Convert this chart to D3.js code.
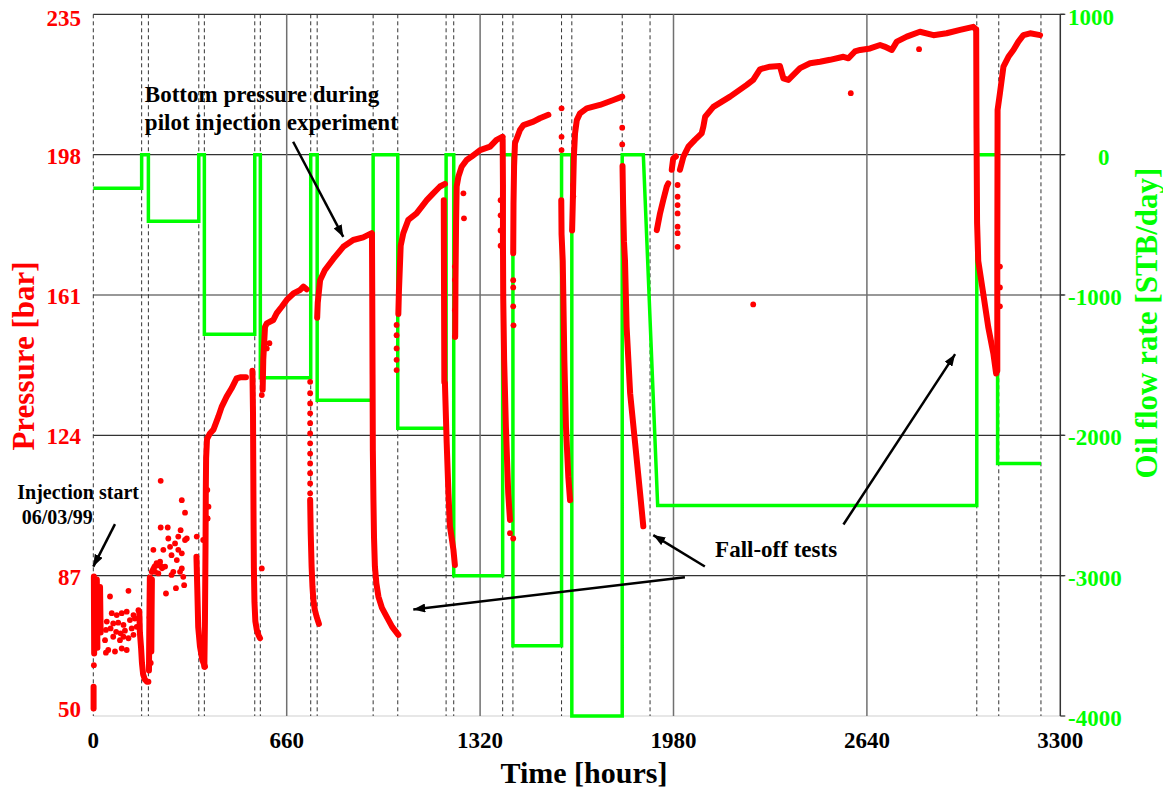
<!DOCTYPE html>
<html>
<head>
<meta charset="utf-8">
<script src="https://cdn.jsdelivr.net/npm/d3@7"></script>
<style>
  html, body { margin: 0; padding: 0; background: #fff; }
  svg { display: block; font-family: "Liberation Serif", "Times New Roman", serif; font-weight: bold; }
</style>
</head>
<body>
<svg id="chart" width="1163" height="790"></svg>
<script>
// ---- axis ticks ----
const timeTicks = [0, 660, 1320, 1980, 2640, 3300];
const pressureTicks = [50, 87, 124, 161, 198, 235];
const rateTicks = [1000, 0, -1000, -2000, -3000, -4000];

// ---- times (hours) where the injection rate was changed ----
const eventTimes = [0, 165, 188, 360, 379, 551, 570, 742, 764, 955, 1039, 1204, 1230,
                    1397, 1432, 1598, 1633, 1805, 1900, 3015, 3090, 3234];

// ---- oil flow rate history (STB/day), vertices of the step line ----
const flowTime = [0, 165, 165, 188, 188, 360, 360, 379, 379, 551, 551, 570, 570, 742, 742, 764, 764,
                  955, 955, 1039, 1039, 1204, 1204, 1230, 1230, 1397, 1397, 1432, 1432, 1598, 1598,
                  1633, 1633, 1805, 1805, 1877, 1926, 3015, 3015, 3086, 3086, 3234];
const flowRate = [-240, -240, 0, 0, -475, -475, 0, 0, -1280, -1280, 0, 0, -1590, -1590, 0, 0, -1750,
                  -1750, 0, 0, -1950, -1950, 0, 0, -3000, -3000, 0, 0, -3500, -3500, 0,
                  0, -4000, -4000, 0, 0, -2500, -2500, 0, 0, -2200, -2200];

// ---- bottom-hole pressure (bar): dense gauge runs [hours, bar] ----
const pressureRuns = [
  [[1, 57.7], [1, 52]],
  [[2, 86.8], [3, 66.5]],
  [[12, 86], [14, 68]],
  [[23, 84], [25, 72]],
  [[157, 77.5], [159, 72], [163, 68], [166, 64], [170, 61], [176, 59.6], [183, 59], [188, 59]],
  [[190, 62], [191, 72], [192, 80], [193, 86.5]],
  [[198, 67], [199, 78], [200, 86]],
  [[200, 88], [210, 89.5], [225, 90], [235, 89]],
  [[352, 92], [355, 83.2], [358, 73.5], [364, 68.3], [372, 64.8], [381, 63]],
  [[379, 63], [381, 75], [383, 95], [384, 110], [385, 118], [388, 123], [398, 124.5], [410, 125.5],
   [427, 129], [438, 131.5], [455, 134.2], [472, 136.4], [489, 139], [501, 139.3], [521, 139.3]],
  [[543, 141], [545, 130], [546, 115], [547, 100], [548, 89], [550, 80], [553, 75], [558, 72.7],
   [564, 71.3], [569, 70.5]],
  [[578, 136], [580, 143.9], [586, 152.6], [592, 153.5], [614, 154.4], [626, 156.2], [643, 157.9],
   [660, 159.7], [683, 161.4], [705, 162.3], [717, 163.2], [728, 162.5]],
  [[740, 107], [742, 98], [745, 89.4], [748, 84], [751, 80.6], [756, 78], [762, 76.2], [770, 74.3]],
  [[764, 155], [766, 159], [774, 164.9], [790, 167.5], [819, 170.5], [853, 173.7], [887, 175.5],
   [921, 176.2], [950, 177.3]],
  [[951, 177], [952, 160], [953, 140], [954, 120], [956, 107], [958, 97], [961, 89.4], [966, 85],
   [973, 81.5], [985, 78.5], [1001, 76.2], [1020, 73.5], [1041, 71.4]],
  [[1041, 156], [1043, 162], [1046, 168], [1049, 174], [1058, 177.3], [1075, 180.8], [1103, 182.5],
   [1121, 184.3], [1138, 186], [1160, 187.8], [1183, 189.6], [1200, 190.3]],
  [[1196, 186], [1197, 160], [1198, 138]],
  [[1200, 137.7], [1206, 121.9], [1212, 108.7], [1217, 100], [1223, 97], [1229, 93.8], [1234, 89.8]],
  [[1235, 150], [1236, 165], [1238, 180], [1240, 189.6], [1246, 192.2], [1257, 194.8], [1274, 196.6],
   [1291, 197.5], [1320, 199.2], [1354, 200.1], [1376, 201.9], [1397, 202.7]],
  [[1397, 202], [1398, 190], [1398, 175], [1399, 160], [1402, 143.9], [1408, 126.3], [1416, 108.7],
   [1422, 101.7]],
  [[1433, 172], [1434, 185], [1436, 195], [1439, 201], [1456, 204.5], [1468, 205.8], [1502, 206.7],
   [1524, 207.6], [1553, 208.5]],
  [[1597, 186], [1598, 177], [1602, 170], [1607.5, 143.9], [1613, 126.3], [1621, 113.1], [1627, 106.9]],
  [[1634, 178], [1636, 184.3], [1640, 197.5], [1644, 203.6], [1650, 207.1], [1661, 208.9],
   [1684, 210.2], [1729, 211.1], [1775, 212.4], [1805, 213.3]],
  [[1806, 195], [1808, 185], [1811, 175], [1814.5, 170], [1820, 152.6], [1832, 135.1], [1849, 121.9],
   [1866, 108.7], [1877, 100]],
  [[1923, 178.1], [1934, 182.5], [1945, 186], [1957, 189.6], [1962, 190.4]],
  [[1974, 194], [1979, 197], [1988, 197.5]],
  [[2002, 194], [2014, 197.5], [2031, 200.1], [2053, 201.9], [2076, 203.6], [2082, 205.4], [2088, 208],
   [2116, 210.6], [2173, 213.3], [2230, 216.4], [2252, 217.7], [2275, 220.5], [2309, 221.2],
   [2343, 221.4], [2355, 218.1], [2372, 217.7], [2389, 219], [2412, 220.8], [2446, 222.1],
   [2480, 222.5], [2514, 223], [2560, 223.8], [2577, 223.4], [2599, 225.2], [2617, 225.6],
   [2651, 226], [2685, 226.9], [2700, 226.5], [2725, 225.6], [2742, 227.8], [2776, 229.1],
   [2821, 230.4], [2867, 229.5], [2912, 230], [2958, 230.9], [3003, 231.7], [3012, 231]],
  [[3013, 231], [3014, 205], [3016, 180], [3020, 170], [3037, 161.4], [3054, 152.6], [3071.5, 145.6],
   [3081, 140.3]],
  [[3085, 141], [3085, 170], [3086, 209.8], [3094, 214.2], [3106, 221.2], [3123, 223.8], [3140, 225.6],
   [3157, 227.8], [3174, 229.5], [3197, 230], [3231, 229.5]]
];

// ---- scattered single gauge readings [hours, bar] ----
const pressureDots = [
  [2, 63.4], [57, 81.5], [120, 83], [63, 77.1], [80, 76.6], [97, 77.1], [114, 77.5], [137, 76.6],
  [154, 77.9], [46, 74.9], [68, 74.4], [85, 74.6], [103, 74], [125, 75.3], [142, 75.7], [43, 72.7],
  [59, 73.1], [78, 72.2], [93, 71.8], [108, 72.5], [131, 73.1], [148, 73.5], [40, 70], [68, 70.9],
  [91, 70], [103, 70.9], [120, 70.5], [137, 71.4], [51, 67.4], [74, 67], [97, 67.8], [114, 67.4],
  [43, 66.7],
  [205, 93.8], [216, 90.3], [211, 88], [228, 90.7], [233, 89.4], [245, 89.4], [262, 94.6],
  [279, 95.5], [267, 92.4], [290, 93.8], [302, 92.9], [313, 96.4], [319, 96.8], [285, 91.1],
  [273, 88], [296, 88], [307, 86.7], [256, 96.8], [239, 93.8], [222, 87.6], [290, 97.3],
  [302, 88.9], [267, 87.2],
  [230, 112], [302, 106.9], [313, 103.6], [230, 99.7], [254, 99.7], [298, 99], [353, 97.3],
  [375, 96.4], [248, 82.3], [282, 83.7], [310, 84.5],
  [194, 70], [196, 64], [192, 76], [197, 82],
  [389, 109.6], [393, 105.2], [389, 102.1], [387, 105.2], [390, 102.1],
  [575, 88.9], [575, 134.6], [601, 148.3], [592, 146.9],
  [740, 138.1], [740, 135.1], [740, 132.4], [740, 129.8], [740, 127.2], [740, 124.5], [740, 121.9],
  [740, 119.2], [740, 116.6], [740, 114], [740, 111.3], [740, 108.7],
  [1035, 153.1], [1035, 150.4], [1035, 146.9], [1035, 143.9], [1035, 141.2],
  [1263, 187.8], [1265, 181.2], [1234, 168.5], [1234, 165], [1234, 157], [1234, 150],
  [1390, 186], [1390, 182], [1390, 178], [1390, 174], [1422, 98.2], [1433, 96.8], [1433, 164.9],
  [1433, 163], [1433, 158], [1434, 153],
  [1598, 210.2], [1598, 202.7], [1598, 199.2], [1637, 190], [1638, 187],
  [1805, 205.1], [1805, 200.7],
  [1994, 190], [1994, 186.9], [1994, 184.7], [1994, 182.5], [1994, 179], [1994, 177.3], [1994, 173.7],
  [2252, 158.5], [2585, 214.2], [2818, 225.8],
  [3094, 168.5], [3094, 163], [3094, 158]
];

// ================= drawing =================
const svg = d3.select("#chart");
const RED = "#ff0000", GREEN = "#00ff00";

const x = d3.scaleLinear().domain([0, 3300]).range([93.3, 1060.3]);
const yP = d3.scaleLinear().domain([50, 235]).range([716, 14.3]);
const yQ = d3.scaleLinear().domain([-4000, 1000]).range([716, 14.3]);

svg.append("rect").attr("width", 1163).attr("height", 790).attr("fill", "#fff");

// arrowhead
svg.append("defs").append("marker")
  .attr("id", "head").attr("viewBox", "0 0 12 9")
  .attr("refX", 12).attr("refY", 4.5)
  .attr("markerWidth", 12).attr("markerHeight", 9)
  .attr("markerUnits", "userSpaceOnUse").attr("orient", "auto")
  .append("path").attr("d", "M0,0 L12,4.5 L0,9 Z").attr("fill", "#000");

const grid = svg.append("g");

// horizontal grid lines (pressure ticks)
grid.selectAll("line.h").data(pressureTicks).join("line")
  .attr("x1", x(0)).attr("x2", x(3300) + 4)
  .attr("y1", d => yP(d)).attr("y2", d => yP(d))
  .attr("stroke", d => d === 50 ? "#cfcfcf" : "#333")
  .attr("stroke-width", 1.2);

// vertical grid lines (time ticks)
grid.selectAll("line.v").data(timeTicks.filter(t => t > 0)).join("line")
  .attr("x1", d => x(d)).attr("x2", d => x(d))
  .attr("y1", yP(235)).attr("y2", yP(50))
  .attr("stroke", d => d === 3300 ? "#333" : "#707070")
  .attr("stroke-width", 1.5);

// small ticks of the right axis
grid.selectAll("line.rt").data(rateTicks).join("line")
  .attr("x1", x(3300)).attr("x2", x(3300) + 5)
  .attr("y1", d => yQ(d)).attr("y2", d => yQ(d))
  .attr("stroke", "#333").attr("stroke-width", 1.2);

// dashed lines at rate changes
grid.selectAll("line.ev").data(eventTimes).join("line")
  .attr("x1", d => x(d)).attr("x2", d => x(d))
  .attr("y1", yP(235)).attr("y2", yP(50))
  .attr("stroke", "#333").attr("stroke-width", 1)
  .attr("stroke-dasharray", "4,3");

// oil flow rate step line
const flow = flowTime.map((t, i) => [t, flowRate[i]]);
svg.append("path")
  .attr("d", d3.line().x(d => x(d[0])).y(d => yQ(d[1]))(flow))
  .attr("fill", "none").attr("stroke", GREEN).attr("stroke-width", 3.5)
  .attr("stroke-linejoin", "miter");

// pressure: dense runs
const pLine = d3.line().x(d => x(d[0])).y(d => yP(d[1]));
svg.append("g").selectAll("path").data(pressureRuns).join("path")
  .attr("d", pLine)
  .attr("fill", "none").attr("stroke", RED).attr("stroke-width", 6)
  .attr("stroke-linecap", "round").attr("stroke-linejoin", "round");

// pressure: single readings
svg.append("g").selectAll("circle").data(pressureDots).join("circle")
  .attr("cx", d => x(d[0])).attr("cy", d => yP(d[1])).attr("r", 2.9)
  .attr("fill", RED);

// ---- tick labels ----
svg.append("g").selectAll("text").data(pressureTicks).join("text")
  .attr("x", 81).attr("text-anchor", "end")
  .attr("y", d => Math.min(716.7, Math.max(25.7, yP(d) + 9)))
  .attr("font-size", 23).attr("fill", RED)
  .text(d => d);

svg.append("g").selectAll("text").data(rateTicks).join("text")
  .attr("x", d => d === 0 ? 1098 : 1068)
  .attr("y", d => Math.min(726, Math.max(25, yQ(d) + 10)))
  .attr("font-size", 23).attr("fill", GREEN)
  .text(d => d);

svg.append("g").selectAll("text").data(timeTicks).join("text")
  .attr("x", d => x(d)).attr("y", 748).attr("text-anchor", "middle")
  .attr("font-size", 23).attr("fill", "#000")
  .text(d => d);

// ---- axis titles ----
svg.append("text").attr("x", 584).attr("y", 783).attr("text-anchor", "middle")
  .attr("font-size", 30).attr("fill", "#000").text("Time [hours]");

svg.append("text").attr("transform", "translate(34,356) rotate(-90)")
  .attr("text-anchor", "middle").attr("font-size", 31).attr("fill", RED)
  .text("Pressure [bar]");

svg.append("text").attr("transform", "translate(1157,323) rotate(-90)")
  .attr("text-anchor", "middle").attr("font-size", 31).attr("fill", GREEN)
  .text("Oil flow rate [STB/day]");

// ---- annotations ----
const notes = svg.append("g").attr("fill", "#000");
notes.append("text").attr("x", x(176)).attr("y", yP(212)).attr("font-size", 23)
  .text("Bottom pressure during");
notes.append("text").attr("x", x(176)).attr("y", yP(204.5)).attr("font-size", 23)
  .text("pilot injection experiment");
notes.append("text").attr("x", 17.3).attr("y", 499).attr("font-size", 20)
  .text("Injection start");
notes.append("text").attr("x", 21.7).attr("y", 524).attr("font-size", 20)
  .text("06/03/99");
notes.append("text").attr("x", x(2122)).attr("y", yP(91.9)).attr("font-size", 23)
  .text("Fall-off tests");

const arrows = [
  [[682, 201.4], [853, 176.3]],
  [[74, 100.6], [0, 89.4]],
  [[2087, 89.4], [1911, 97.7]],
  [[2019, 86.6], [1092, 78.1]],
  [[2560, 100.5], [2941, 145.4]]
];
notes.selectAll("line").data(arrows).join("line")
  .attr("x1", d => x(d[0][0])).attr("y1", d => yP(d[0][1]))
  .attr("x2", d => x(d[1][0])).attr("y2", d => yP(d[1][1]))
  .attr("stroke", "#000").attr("stroke-width", 2.5)
  .attr("marker-end", "url(#head)");
</script>
</body>
</html>
